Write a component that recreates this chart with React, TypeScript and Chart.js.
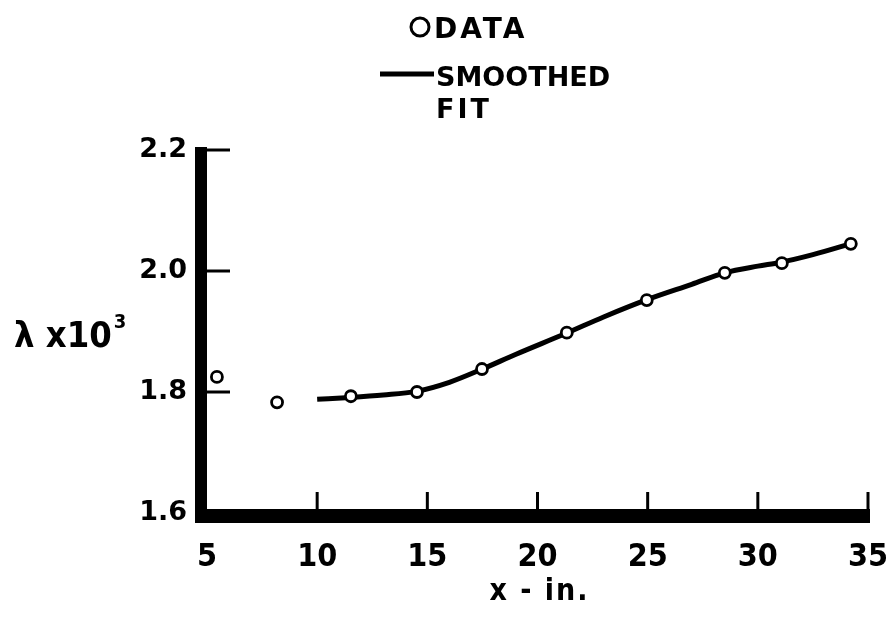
import React, { useEffect, useRef } from 'react';
import { Chart, registerables } from 'chart.js';

Chart.register(...registerables);

// Measured data (circles)
const dataX = [5.45, 8.18, 11.53, 14.53, 17.48, 21.33, 24.96, 28.5, 31.09, 34.22];
const dataY = [1.825, 1.783, 1.793, 1.8, 1.838, 1.898, 1.952, 1.997, 2.013, 2.045];

// Smoothed fit (line)
const fitX = [10.0, 11.5, 13.0, 14.5, 16.0, 17.5, 19.0, 21.3, 23.0, 25.0, 27.0, 28.5, 30.0, 31.0, 32.5, 34.4];
const fitY = [1.788, 1.791, 1.795, 1.801, 1.816, 1.838, 1.862, 1.897, 1.924, 1.953, 1.978, 1.997, 2.008, 2.014, 2.027, 2.047];

const xTicks = [5, 10, 15, 20, 25, 30, 35];
const yTicks = [1.6, 1.8, 2.0, 2.2];

const legendData = 'DATA';
const legendFit = ['SMOOTHED', 'FIT'];
const xTitle = 'x - in.';
const yTitle = 'λ x10';
const yTitleSup = '3';

const NARROW = "'Liberation Sans Narrow', 'DejaVu Sans Condensed', 'DejaVu Sans', sans-serif";
const WIDE = "'DejaVu Sans', sans-serif";

const decorPlugin = {
  id: 'decor',
  beforeDatasetsDraw(chart: any) {
    const { ctx, chartArea, scales } = chart;
    const { left, right, top, bottom } = chartArea;
    const x = scales.x;
    const y = scales.y;
    ctx.save();
    ctx.fillStyle = '#000';
    ctx.strokeStyle = '#000';
    // y axis thick line
    ctx.fillRect(left - 12, top - 3, 12, bottom + 10 - (top - 3));
    // x axis thick line
    ctx.fillRect(left - 12, bottom - 4, right + 2 - (left - 12), 14);
    ctx.lineWidth = 3;
    ctx.lineCap = 'butt';
    for (const t of y.ticks) {
      if (t.value === yTicks[0]) continue;
      const py = y.getPixelForValue(t.value);
      ctx.beginPath();
      ctx.moveTo(left - 2, py);
      ctx.lineTo(left + 23, py);
      ctx.stroke();
    }
    for (const t of x.ticks) {
      if (t.value === xTicks[0]) continue;
      const px = x.getPixelForValue(t.value);
      ctx.beginPath();
      ctx.moveTo(px, bottom - 2);
      ctx.lineTo(px, bottom - 21);
      ctx.stroke();
    }
    ctx.restore();
  },
  afterDraw(chart: any) {
    const { ctx, chartArea } = chart;
    const cx = (chartArea.left + chartArea.right) / 2;
    ctx.save();
    ctx.fillStyle = '#000';
    ctx.strokeStyle = '#000';
    // legend: circle + DATA
    ctx.lineWidth = 3;
    ctx.beginPath();
    ctx.arc(420, 27, 9, 0, Math.PI * 2);
    ctx.stroke();
    ctx.font = `bold 28px ${WIDE}`;
    ctx.textAlign = 'left';
    ctx.textBaseline = 'alphabetic';
    (ctx as any).letterSpacing = '3px';
    ctx.fillText(legendData, 434, 38);
    (ctx as any).letterSpacing = '0px';
    // legend: line + SMOOTHED FIT
    ctx.lineWidth = 5;
    ctx.beginPath();
    ctx.moveTo(380, 74);
    ctx.lineTo(434, 74);
    ctx.stroke();
    ctx.font = `bold 27px ${WIDE}`;
    ctx.fillText(legendFit[0], 436, 86);
    (ctx as any).letterSpacing = '3px';
    ctx.fillText(legendFit[1], 436, 118);
    (ctx as any).letterSpacing = '0px';
    // y title
    ctx.font = `bold 36px ${NARROW}`;
    ctx.fillText(yTitle, 14, 347);
    const w = ctx.measureText(yTitle).width;
    ctx.font = `bold 20px ${NARROW}`;
    ctx.fillText(yTitleSup, 14 + w + 2, 328);
    // x title
    ctx.font = `bold 30px ${NARROW}`;
    ctx.textAlign = 'center';
    (ctx as any).letterSpacing = '2px';
    ctx.fillText(xTitle, cx + 2, 600);
    (ctx as any).letterSpacing = '0px';
    ctx.restore();
  },
};

export default function App() {
  const ref = useRef<HTMLCanvasElement | null>(null);
  useEffect(() => {
    if (!ref.current) return;
    const chart = new Chart(ref.current, {
      type: 'scatter',
      data: {
        datasets: [
          {
            label: 'DATA',
            data: dataX.map((v, i) => ({ x: v, y: dataY[i] })),
            pointRadius: 5.5,
            pointBorderWidth: 2.8,
            pointBackgroundColor: '#fff',
            pointBorderColor: '#000',
            showLine: false,
            order: 0,
          },
          {
            label: 'SMOOTHED FIT',
            data: fitX.map((v, i) => ({ x: v, y: fitY[i] })),
            showLine: true,
            pointRadius: 0,
            borderColor: '#000',
            borderWidth: 5,
            cubicInterpolationMode: 'monotone',
            order: 1,
          } as any,
        ],
      },
      options: {
        animation: false,
        responsive: false,
        maintainAspectRatio: false,
        layout: { padding: { left: 0, top: 150, right: 21, bottom: 0 } },
        plugins: { legend: { display: false }, tooltip: { enabled: false } },
        scales: {
          x: {
            type: 'linear',
            min: 5,
            max: 35,
            afterBuildTicks: (s: any) => { s.ticks = xTicks.map((v) => ({ value: v })); },
            afterFit: (s: any) => { s.height = 106; s.paddingLeft = 0; s.paddingRight = 0; },
            grid: { display: false, drawTicks: false },
            border: { display: false },
            ticks: {
              color: '#000',
              padding: 25,
              maxRotation: 0,
              font: { family: NARROW, size: 32, weight: 'bold' },
              callback: (v: any) => String(v),
            },
          },
          y: {
            type: 'linear',
            min: 1.6,
            max: 2.2,
            afterBuildTicks: (s: any) => { s.ticks = yTicks.map((v) => ({ value: v })); },
            afterFit: (s: any) => { s.width = 207; s.paddingTop = 0; s.paddingBottom = 0; },
            grid: { display: false, drawTicks: false },
            border: { display: false },
            ticks: {
              color: '#000',
              padding: 20,
              font: { family: WIDE, size: 27, weight: 'bold' },
              callback: (v: any) => Number(v).toFixed(1),
            },
          },
        },
      } as any,
      plugins: [decorPlugin],
    });
    return () => chart.destroy();
  }, []);
  return (
    <div style={{ position: 'absolute', left: 0, top: 0, width: 889, height: 619, background: '#fff' }}>
      <canvas ref={ref} width={889} height={619} style={{ width: 889, height: 619 }} />
    </div>
  );
}
